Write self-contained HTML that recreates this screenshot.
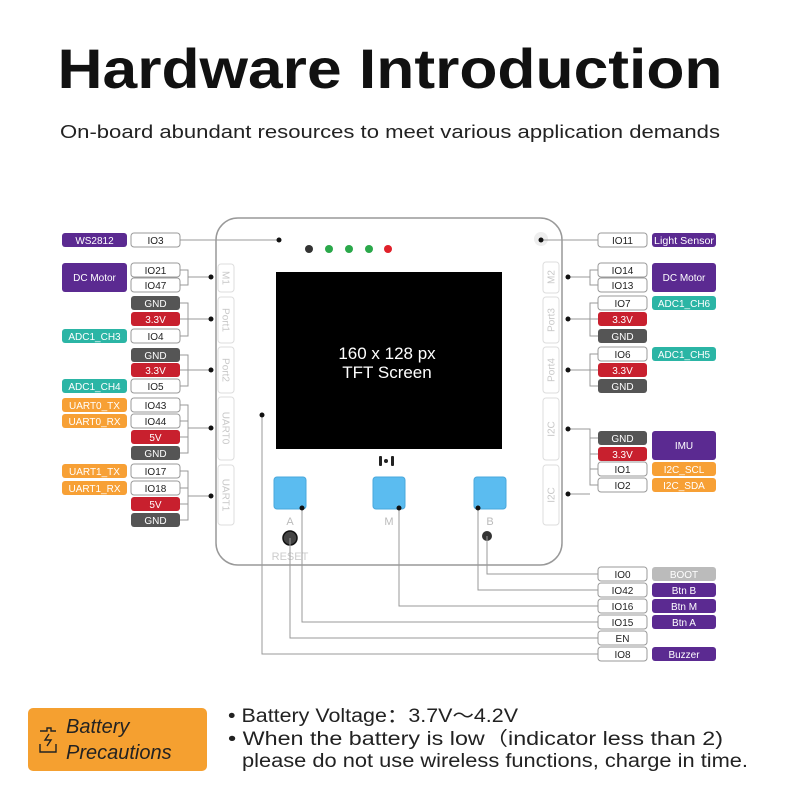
<!DOCTYPE html>
<html><head><meta charset="utf-8"><style>
html,body{margin:0;padding:0;background:#fff;}
svg{display:block;}
text{font-family:"Liberation Sans",sans-serif;}
.p{fill:#fff;stroke:#999;stroke-width:1;}
.pt{font-size:10px;fill:#222;text-anchor:middle;}
.wt{font-size:10px;fill:#fff;text-anchor:middle;}
.ln{stroke:#999;stroke-width:1;fill:none;}
.tab{fill:#fff;stroke:#ddd;stroke-width:1;}
.tt{font-size:10px;fill:#c8c8c8;text-anchor:middle;}
</style></head><body>
<svg width="800" height="800" viewBox="0 0 800 800" xmlns="http://www.w3.org/2000/svg">
<text x="390" y="88" font-size="56" font-weight="bold" text-anchor="middle" textLength="665" lengthAdjust="spacingAndGlyphs" fill="#111">Hardware Introduction</text>
<text x="390" y="138" font-size="18" text-anchor="middle" textLength="660" lengthAdjust="spacingAndGlyphs" fill="#222">On-board abundant resources to meet various application demands</text>

<rect x="216" y="218" width="346" height="347" rx="22" fill="#fff" stroke="#999" stroke-width="1.5"/>
<rect class="tab" x="218" y="264" width="16" height="28" rx="3"/><text class="tt" transform="translate(226,278) rotate(90)" dy="3.5">M1</text>
<rect class="tab" x="218" y="297" width="16" height="46" rx="3"/><text class="tt" transform="translate(226,320) rotate(90)" dy="3.5">Port1</text>
<rect class="tab" x="218" y="347" width="16" height="46" rx="3"/><text class="tt" transform="translate(226,370) rotate(90)" dy="3.5">Port2</text>
<rect class="tab" x="218" y="397" width="16" height="63" rx="3"/><text class="tt" transform="translate(226,428) rotate(90)" dy="3.5">UART0</text>
<rect class="tab" x="218" y="465" width="16" height="60" rx="3"/><text class="tt" transform="translate(226,495) rotate(90)" dy="3.5">UART1</text>
<rect class="tab" x="543" y="262" width="16" height="31" rx="3"/><text class="tt" transform="translate(551,277) rotate(-90)" dy="3.5">M2</text>
<rect class="tab" x="543" y="297" width="16" height="46" rx="3"/><text class="tt" transform="translate(551,320) rotate(-90)" dy="3.5">Port3</text>
<rect class="tab" x="543" y="347" width="16" height="46" rx="3"/><text class="tt" transform="translate(551,370) rotate(-90)" dy="3.5">Port4</text>
<rect class="tab" x="543" y="398" width="16" height="62" rx="3"/><text class="tt" transform="translate(551,429) rotate(-90)" dy="3.5">I2C</text>
<rect class="tab" x="543" y="465" width="16" height="60" rx="3"/><text class="tt" transform="translate(551,495) rotate(-90)" dy="3.5">I2C</text>

<rect x="276" y="272" width="226" height="177" fill="#000"/>
<text x="387" y="359" font-size="17" fill="#fff" text-anchor="middle">160 x 128 px</text>
<text x="387" y="378" font-size="17" fill="#fff" text-anchor="middle">TFT Screen</text>
<circle cx="309" cy="249" r="4" fill="#333"/>
<circle cx="329" cy="249" r="4" fill="#2aa84a"/>
<circle cx="349" cy="249" r="4" fill="#2aa84a"/>
<circle cx="369" cy="249" r="4" fill="#2aa84a"/>
<circle cx="388" cy="249" r="4" fill="#e0202a"/>
<circle cx="541" cy="239" r="7" fill="#eee"/>
<rect x="379" y="456" width="3" height="10" rx="1" fill="#222"/><circle cx="386" cy="461" r="2" fill="#222"/><rect x="391" y="456" width="3" height="10" rx="1" fill="#222"/>
<rect x="274" y="477" width="32" height="32" rx="3" fill="#5bbcf0" stroke="#4aa8dc"/>
<rect x="373" y="477" width="32" height="32" rx="3" fill="#5bbcf0" stroke="#4aa8dc"/>
<rect x="474" y="477" width="32" height="32" rx="3" fill="#5bbcf0" stroke="#4aa8dc"/>
<text x="290" y="525" font-size="11" fill="#bbb" text-anchor="middle">A</text>
<text x="389" y="525" font-size="11" fill="#bbb" text-anchor="middle">M</text>
<text x="490" y="525" font-size="11" fill="#bbb" text-anchor="middle">B</text>
<circle cx="290" cy="538" r="7" fill="#444" stroke="#111" stroke-width="1.5"/>
<text x="290" y="560" font-size="11" fill="#ccc" text-anchor="middle">RESET</text>
<circle cx="487" cy="536" r="5" fill="#333"/>

<g class="ln">
<path d="M180 240 H279"/>
<path d="M180 270 H188 V285 H180 M188 277 H211"/>
<path d="M180 303 H188 V336 H180 M180 319 H211"/>
<path d="M180 355 H188 V386 H180 M180 370 H211"/>
<path d="M180 405 H188 V453 H180 M180 421 H188 M180 437 H188 M188 428 H211"/>
<path d="M180 471 H188 V520 H180 M180 488 H188 M180 504 H188 M188 496 H211"/>
<path d="M541 240 H598"/>
<path d="M598 270 H590 V285 H598 M590 277 H568"/>
<path d="M598 303 H590 V336 H598 M598 319 H568"/>
<path d="M598 354 H590 V386 H598 M598 370 H568"/>
<path d="M568 429 H590 V485 H598 M598 438 H590 M598 454 H590 M598 469 H590 M568 494 H590"/>
<path d="M487 536 V574 H598"/>
<path d="M478 508 V590 H598"/>
<path d="M399 508 V606 H598"/>
<path d="M302 508 V622 H598"/>
<path d="M290 538 V638 H598"/>
<path d="M262 415 V654 H598"/>
</g>
<g fill="#111">
<circle cx="279" cy="240" r="2.5"/><circle cx="541" cy="240" r="2.5"/>
<circle cx="211" cy="277" r="2.5"/><circle cx="211" cy="319" r="2.5"/><circle cx="211" cy="370" r="2.5"/><circle cx="211" cy="428" r="2.5"/><circle cx="211" cy="496" r="2.5"/>
<circle cx="568" cy="277" r="2.5"/><circle cx="568" cy="319" r="2.5"/><circle cx="568" cy="370" r="2.5"/><circle cx="568" cy="429" r="2.5"/><circle cx="568" cy="494" r="2.5"/>
<circle cx="262" cy="415" r="2.5"/><circle cx="478" cy="508" r="2.5"/><circle cx="399" cy="508" r="2.5"/><circle cx="302" cy="508" r="2.5"/>
</g>

<g>
<rect class="p" x="131" y="233" width="49" height="14" rx="3"/><text class="pt" x="155.5" y="244">IO3</text>
<rect class="p" x="131" y="263" width="49" height="14" rx="3"/><text class="pt" x="155.5" y="274">IO21</text>
<rect class="p" x="131" y="278" width="49" height="14" rx="3"/><text class="pt" x="155.5" y="289">IO47</text>
<rect x="131" y="296" width="49" height="14" rx="3" fill="#555"/><text class="wt" x="155.5" y="307">GND</text>
<rect x="131" y="312" width="49" height="14" rx="3" fill="#c8202e"/><text class="wt" x="155.5" y="323">3.3V</text>
<rect class="p" x="131" y="329" width="49" height="14" rx="3"/><text class="pt" x="155.5" y="340">IO4</text>
<rect x="131" y="348" width="49" height="14" rx="3" fill="#555"/><text class="wt" x="155.5" y="359">GND</text>
<rect x="131" y="363" width="49" height="14" rx="3" fill="#c8202e"/><text class="wt" x="155.5" y="374">3.3V</text>
<rect class="p" x="131" y="379" width="49" height="14" rx="3"/><text class="pt" x="155.5" y="390">IO5</text>
<rect class="p" x="131" y="398" width="49" height="14" rx="3"/><text class="pt" x="155.5" y="409">IO43</text>
<rect class="p" x="131" y="414" width="49" height="14" rx="3"/><text class="pt" x="155.5" y="425">IO44</text>
<rect x="131" y="430" width="49" height="14" rx="3" fill="#c8202e"/><text class="wt" x="155.5" y="441">5V</text>
<rect x="131" y="446" width="49" height="14" rx="3" fill="#555"/><text class="wt" x="155.5" y="457">GND</text>
<rect class="p" x="131" y="464" width="49" height="14" rx="3"/><text class="pt" x="155.5" y="475">IO17</text>
<rect class="p" x="131" y="481" width="49" height="14" rx="3"/><text class="pt" x="155.5" y="492">IO18</text>
<rect x="131" y="497" width="49" height="14" rx="3" fill="#c8202e"/><text class="wt" x="155.5" y="508">5V</text>
<rect x="131" y="513" width="49" height="14" rx="3" fill="#555"/><text class="wt" x="155.5" y="524">GND</text>
</g>
<g>
<rect x="62" y="233" width="65" height="14" rx="3" fill="#5b2a91"/><text class="wt" x="94.5" y="244">WS2812</text>
<rect x="62" y="263" width="65" height="29" rx="3" fill="#5b2a91"/><text class="wt" x="94.5" y="281">DC Motor</text>
<rect x="62" y="329" width="65" height="14" rx="3" fill="#2bb5a5"/><text class="wt" x="94.5" y="340">ADC1_CH3</text>
<rect x="62" y="379" width="65" height="14" rx="3" fill="#2bb5a5"/><text class="wt" x="94.5" y="390">ADC1_CH4</text>
<rect x="62" y="398" width="65" height="14" rx="3" fill="#f7a035"/><text class="wt" x="94.5" y="409">UART0_TX</text>
<rect x="62" y="414" width="65" height="14" rx="3" fill="#f7a035"/><text class="wt" x="94.5" y="425">UART0_RX</text>
<rect x="62" y="464" width="65" height="14" rx="3" fill="#f7a035"/><text class="wt" x="94.5" y="475">UART1_TX</text>
<rect x="62" y="481" width="65" height="14" rx="3" fill="#f7a035"/><text class="wt" x="94.5" y="492">UART1_RX</text>
</g>
<g>
<rect class="p" x="598" y="233" width="49" height="14" rx="3"/><text class="pt" x="622.5" y="244">IO11</text>
<rect class="p" x="598" y="263" width="49" height="14" rx="3"/><text class="pt" x="622.5" y="274">IO14</text>
<rect class="p" x="598" y="278" width="49" height="14" rx="3"/><text class="pt" x="622.5" y="289">IO13</text>
<rect class="p" x="598" y="296" width="49" height="14" rx="3"/><text class="pt" x="622.5" y="307">IO7</text>
<rect x="598" y="312" width="49" height="14" rx="3" fill="#c8202e"/><text class="wt" x="622.5" y="323">3.3V</text>
<rect x="598" y="329" width="49" height="14" rx="3" fill="#555"/><text class="wt" x="622.5" y="340">GND</text>
<rect class="p" x="598" y="347" width="49" height="14" rx="3"/><text class="pt" x="622.5" y="358">IO6</text>
<rect x="598" y="363" width="49" height="14" rx="3" fill="#c8202e"/><text class="wt" x="622.5" y="374">3.3V</text>
<rect x="598" y="379" width="49" height="14" rx="3" fill="#555"/><text class="wt" x="622.5" y="390">GND</text>
<rect x="598" y="431" width="49" height="14" rx="3" fill="#555"/><text class="wt" x="622.5" y="442">GND</text>
<rect x="598" y="447" width="49" height="14" rx="3" fill="#c8202e"/><text class="wt" x="622.5" y="458">3.3V</text>
<rect class="p" x="598" y="462" width="49" height="14" rx="3"/><text class="pt" x="622.5" y="473">IO1</text>
<rect class="p" x="598" y="478" width="49" height="14" rx="3"/><text class="pt" x="622.5" y="489">IO2</text>
<rect class="p" x="598" y="567" width="49" height="14" rx="3"/><text class="pt" x="622.5" y="578">IO0</text>
<rect class="p" x="598" y="583" width="49" height="14" rx="3"/><text class="pt" x="622.5" y="594">IO42</text>
<rect class="p" x="598" y="599" width="49" height="14" rx="3"/><text class="pt" x="622.5" y="610">IO16</text>
<rect class="p" x="598" y="615" width="49" height="14" rx="3"/><text class="pt" x="622.5" y="626">IO15</text>
<rect class="p" x="598" y="631" width="49" height="14" rx="3"/><text class="pt" x="622.5" y="642">EN</text>
<rect class="p" x="598" y="647" width="49" height="14" rx="3"/><text class="pt" x="622.5" y="658">IO8</text>
</g>
<g>
<rect x="652" y="233" width="64" height="14" rx="3" fill="#5b2a91"/><text class="wt" x="684" y="244" textLength="60" lengthAdjust="spacingAndGlyphs">Light Sensor</text>
<rect x="652" y="263" width="64" height="29" rx="3" fill="#5b2a91"/><text class="wt" x="684" y="281">DC Motor</text>
<rect x="652" y="296" width="64" height="14" rx="3" fill="#2bb5a5"/><text class="wt" x="684" y="307">ADC1_CH6</text>
<rect x="652" y="347" width="64" height="14" rx="3" fill="#2bb5a5"/><text class="wt" x="684" y="358">ADC1_CH5</text>
<rect x="652" y="431" width="64" height="29" rx="3" fill="#5b2a91"/><text class="wt" x="684" y="449">IMU</text>
<rect x="652" y="462" width="64" height="14" rx="3" fill="#f7a035"/><text class="wt" x="684" y="473">I2C_SCL</text>
<rect x="652" y="478" width="64" height="14" rx="3" fill="#f7a035"/><text class="wt" x="684" y="489">I2C_SDA</text>
<rect x="652" y="567" width="64" height="14" rx="3" fill="#bbb"/><text class="wt" x="684" y="578">BOOT</text>
<rect x="652" y="583" width="64" height="14" rx="3" fill="#5b2a91"/><text class="wt" x="684" y="594">Btn B</text>
<rect x="652" y="599" width="64" height="14" rx="3" fill="#5b2a91"/><text class="wt" x="684" y="610">Btn M</text>
<rect x="652" y="615" width="64" height="14" rx="3" fill="#5b2a91"/><text class="wt" x="684" y="626">Btn A</text>
<rect x="652" y="647" width="64" height="14" rx="3" fill="#5b2a91"/><text class="wt" x="684" y="658">Buzzer</text>
</g>

<rect x="28" y="708" width="179" height="63" rx="5" fill="#f5a030"/>
<g stroke="#222" stroke-width="1.4" fill="none">
<path d="M40 731 H47 V728 H51 V731 H56"/>
<path d="M40 744 V752 H56 V744"/>
<path d="M49 734 L45 740 H51 L47 746"/>
</g>
<text x="66" y="733" font-size="20" font-style="italic" fill="#222">Battery</text>
<text x="66" y="759" font-size="20" font-style="italic" fill="#222">Precautions</text>
<g font-size="19" fill="#222">
<text x="228" y="722" textLength="290" lengthAdjust="spacingAndGlyphs">• Battery Voltage：3.7V～4.2V</text>
<text x="228" y="745" textLength="495" lengthAdjust="spacingAndGlyphs">• When the battery is low（indicator less than 2)</text>
<text x="242" y="767" textLength="506" lengthAdjust="spacingAndGlyphs">please do not use wireless functions, charge in time.</text>
</g>
</svg>
</body></html>
